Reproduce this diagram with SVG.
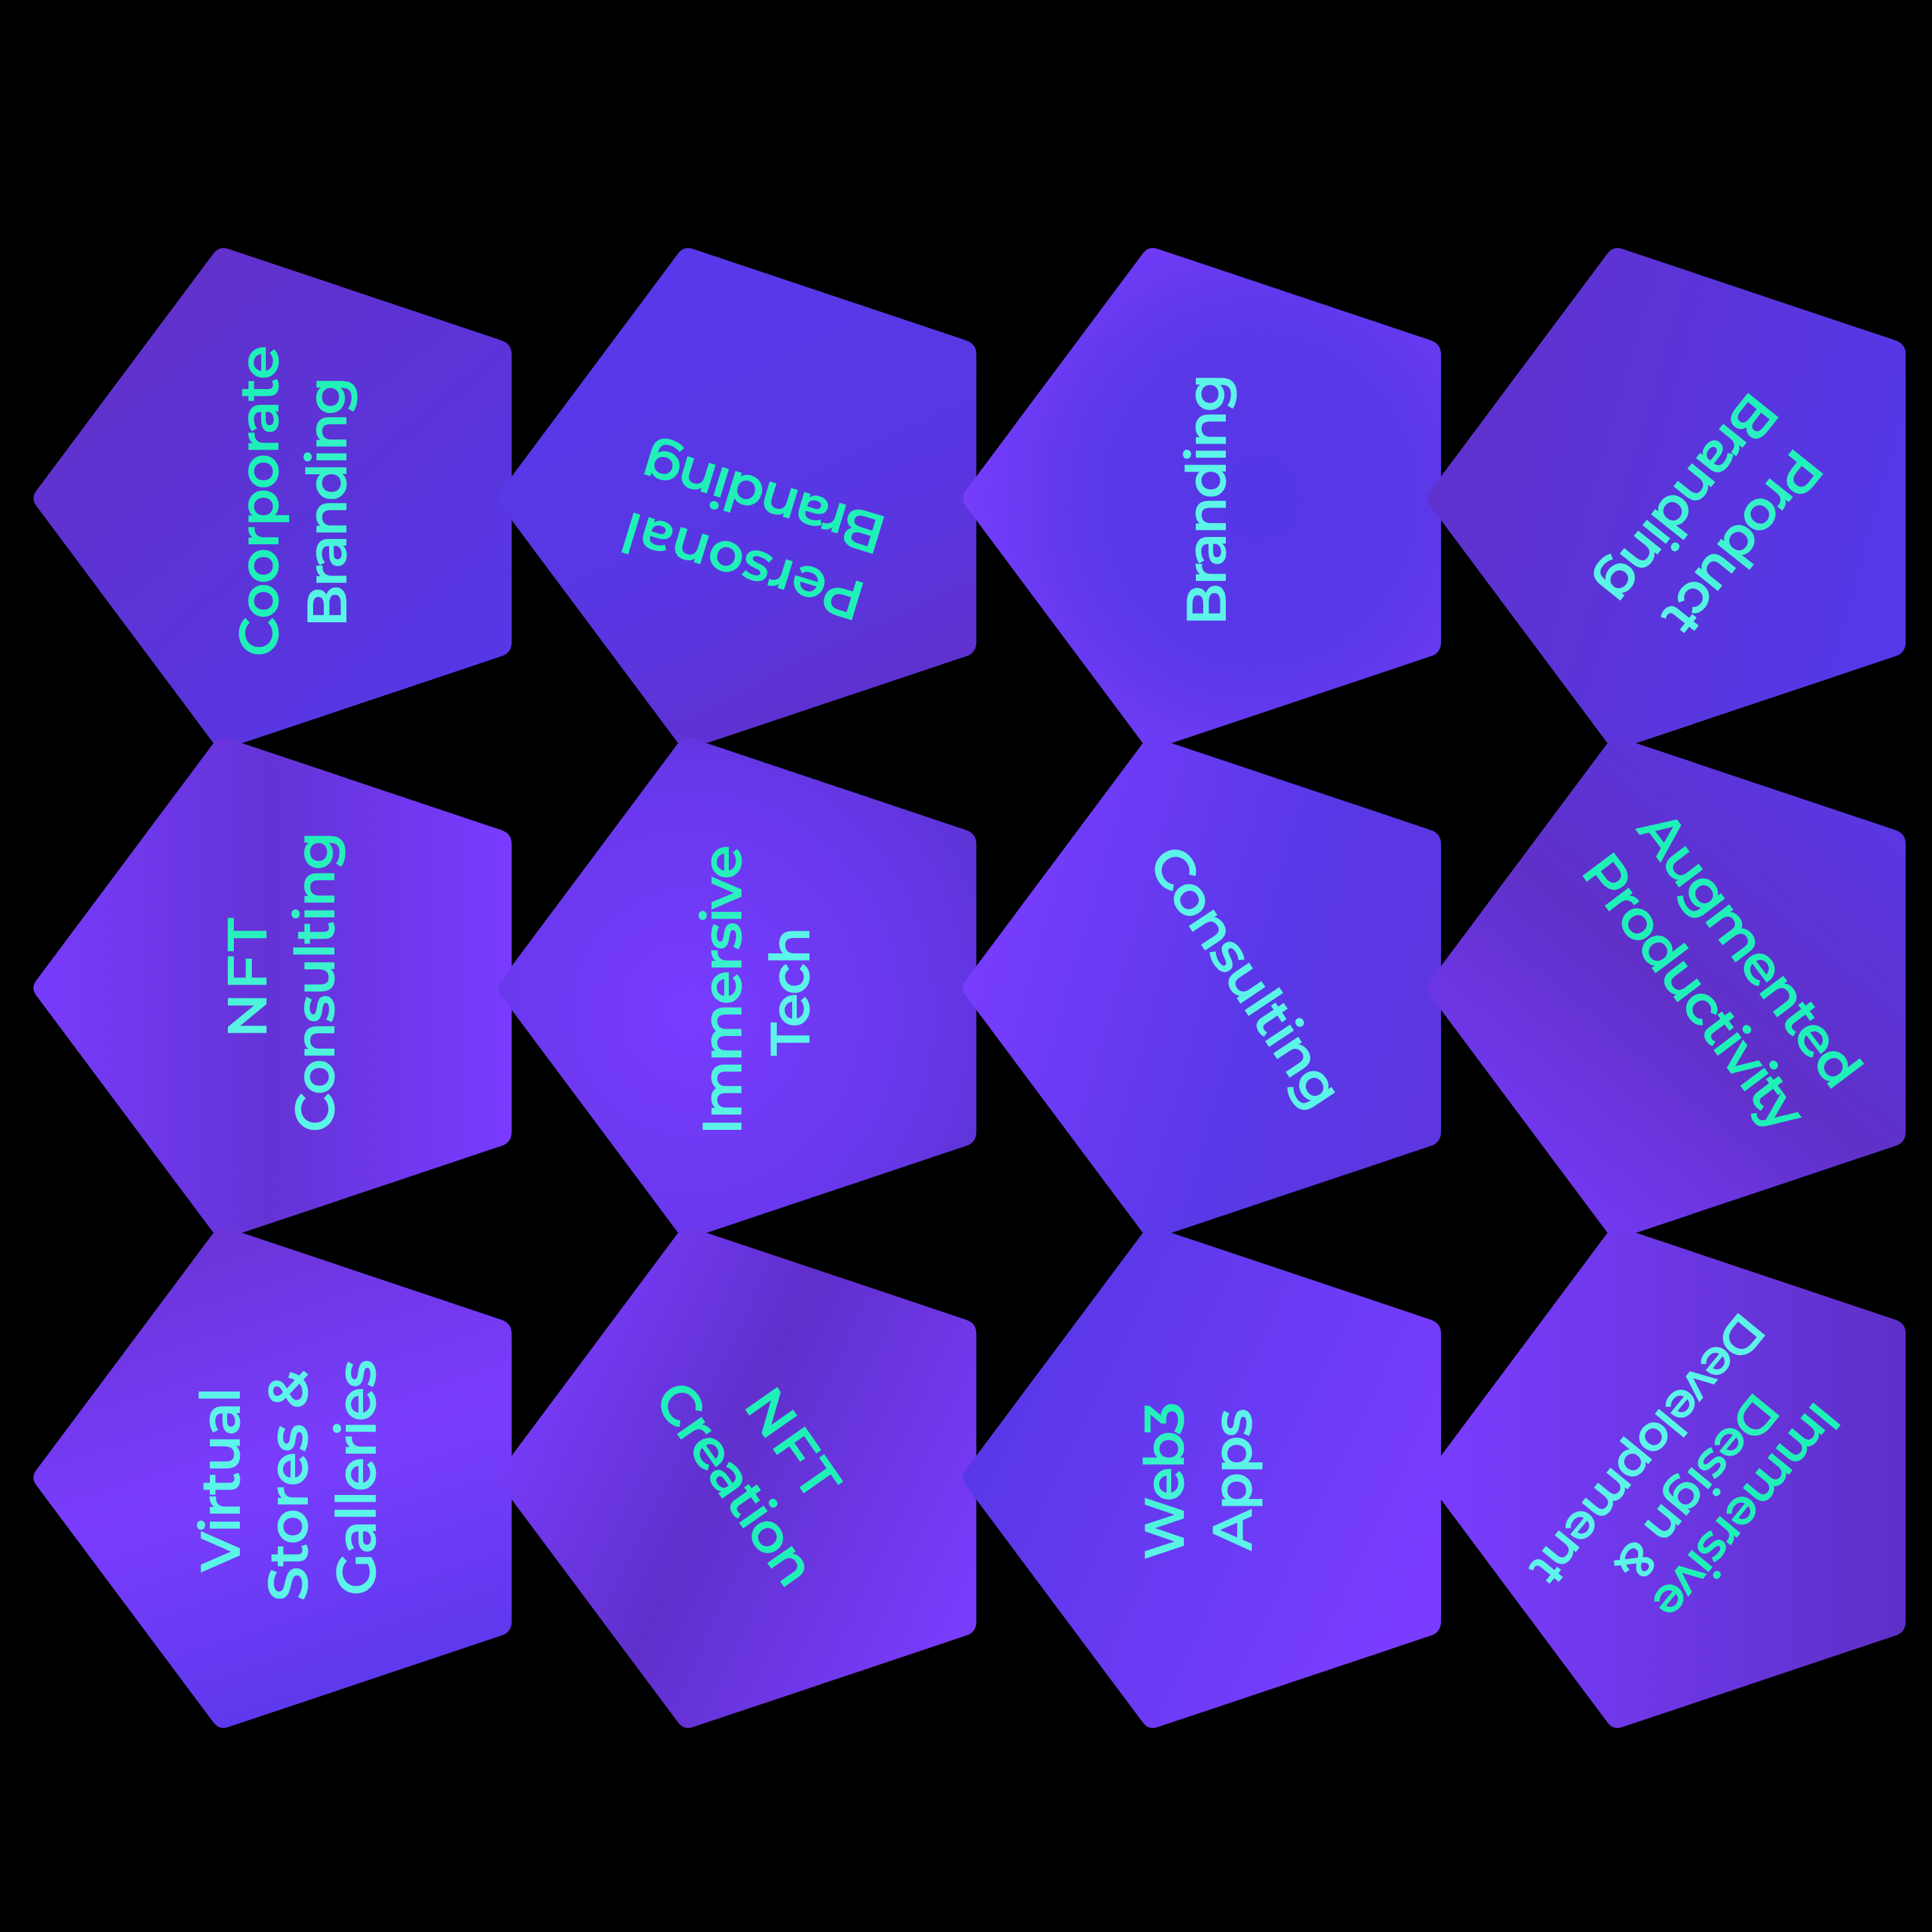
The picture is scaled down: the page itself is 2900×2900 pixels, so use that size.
<svg xmlns="http://www.w3.org/2000/svg" xmlns:xlink="http://www.w3.org/1999/xlink" width="2900" height="2900" viewBox="0 0 2900 2900">
<style>
.t{font-family:"Montserrat","Open Sans","Inter","DejaVu Sans",sans-serif;font-weight:600;font-size:84px;text-anchor:middle}
.s{font-size:76px}
.g{fill:#1ff0b8}
.c{fill:#5cf3e8}
.m{fill:url(#tgrad)}
.mr{fill:url(#tgradr)}
</style>
<defs>
<path id="pent" d="M -394.6,-11.2 L -128.4,-367.8 Q -120,-379 -106.7,-374.6 L 303.8,-237.1 Q 319,-232 319,-216 L 319,216 Q 319,232 303.8,237.1 L -106.7,374.6 Q -120,379 -128.4,367.8 L -394.6,11.2 Q -403,0 -394.6,-11.2 Z"/>
<linearGradient id="tgrad" x1="0" y1="0" x2="1" y2="0"><stop offset="0" stop-color="#1ff0b6"/><stop offset="1" stop-color="#5ef4ea"/></linearGradient>
<linearGradient id="tgradr" x1="0" y1="0" x2="1" y2="0"><stop offset="0" stop-color="#5ef4ea"/><stop offset="1" stop-color="#1ff0b6"/></linearGradient>
<linearGradient id="g1" x1="0.1" y1="0" x2="0.9" y2="1"><stop offset="0" stop-color="#6330c6"/><stop offset="1" stop-color="#5537e8"/></linearGradient>
<linearGradient id="g2" x1="0.5" y1="0.1" x2="0.9" y2="1"><stop offset="0" stop-color="#5838e8"/><stop offset="0.5" stop-color="#5936e2"/><stop offset="1" stop-color="#6230c8"/></linearGradient>
<radialGradient id="g3" cx="0.62" cy="0.5" r="0.65"><stop offset="0" stop-color="#5537e6"/><stop offset="0.55" stop-color="#5b38e8"/><stop offset="1" stop-color="#7a3dfe"/></radialGradient>
<linearGradient id="g4" x1="0" y1="0.3" x2="1" y2="0.6"><stop offset="0" stop-color="#6031cc"/><stop offset="1" stop-color="#5538e8"/></linearGradient>
<linearGradient id="g5" x1="0" y1="0.5" x2="1" y2="0.5"><stop offset="0" stop-color="#783cfc"/><stop offset="0.5" stop-color="#6433d6"/><stop offset="1" stop-color="#793cff"/></linearGradient>
<radialGradient id="g6" cx="0.4" cy="0.55" r="0.7"><stop offset="0" stop-color="#783cff"/><stop offset="0.6" stop-color="#6a38ee"/><stop offset="1" stop-color="#5c34d6"/></radialGradient>
<linearGradient id="g7" x1="0" y1="0.35" x2="1" y2="0.65"><stop offset="0" stop-color="#7a3dff"/><stop offset="0.6" stop-color="#5a38e8"/><stop offset="1" stop-color="#5d36e0"/></linearGradient>
<linearGradient id="g8" x1="0.9" y1="0" x2="0.1" y2="1"><stop offset="0" stop-color="#5838e6"/><stop offset="0.5" stop-color="#6030c8"/><stop offset="1" stop-color="#793cff"/></linearGradient>
<linearGradient id="g9" x1="0.3" y1="0" x2="0.6" y2="1"><stop offset="0" stop-color="#6834d6"/><stop offset="0.5" stop-color="#7a3dfe"/><stop offset="1" stop-color="#5a38ea"/></linearGradient>
<linearGradient id="g10" x1="0" y1="0.3" x2="1" y2="0.8"><stop offset="0" stop-color="#7a3dff"/><stop offset="0.45" stop-color="#6030cc"/><stop offset="1" stop-color="#7a3dff"/></linearGradient>
<linearGradient id="g11" x1="0.2" y1="0.2" x2="1" y2="0.6"><stop offset="0" stop-color="#5a38e8"/><stop offset="1" stop-color="#7a3dff"/></linearGradient>
<linearGradient id="g12" x1="0" y1="0.5" x2="1" y2="0.5"><stop offset="0" stop-color="#7a3dff"/><stop offset="1" stop-color="#5e30c8"/></linearGradient>
</defs>
<rect x="0" y="0" width="2900" height="2900" fill="#000000"/>
<g id="nodes">
<g id="node-corporate-branding">
<use href="#pent" x="449" y="748" fill="url(#g1)"/>
<text class="t g" transform="translate(389,752) rotate(-90)" x="0" y="29" textLength="468">Coorporate</text>
<text class="t mr" transform="translate(491,753.5) rotate(-90)" x="0" y="29" textLength="377">Branding</text>
</g>
<g id="node-personal-branding">
<use href="#pent" x="1146.5" y="748" fill="url(#g2)"/>
<text class="t g" transform="translate(1116,848) rotate(197)" x="0" y="27" textLength="375">Personal</text>
<text class="t g" transform="translate(1146,748) rotate(197)" x="0" y="27" textLength="378">Branding</text>
</g>
<g id="node-branding">
<use href="#pent" x="1844" y="748" fill="url(#g3)"/>
<text class="t c" transform="translate(1811,750) rotate(-90)" x="0" y="29" textLength="379">Branding</text>
</g>
<g id="node-product-branding">
<use href="#pent" x="2541.5" y="748" fill="url(#g4)"/>
<text class="t m" transform="translate(2614,814) rotate(128.6)" x="0" y="27" textLength="330">Product</text>
<text class="t m" transform="translate(2532,748) rotate(128.6)" x="0" y="27" textLength="378">Branding</text>
</g>
<g id="node-nft-consulting">
<use href="#pent" x="449" y="1483" fill="url(#g5)"/>
<text class="t mr" transform="translate(371,1468) rotate(-90)" x="0" y="29" textLength="181">NFT</text>
<text class="t mr" transform="translate(473,1474) rotate(-90)" x="0" y="29" textLength="452">Consulting</text>
</g>
<g id="node-immersive-tech">
<use href="#pent" x="1146.5" y="1483" fill="url(#g6)"/>
<text class="t mr" transform="translate(1084,1486) rotate(-90)" x="0" y="29" textLength="436">Immersive</text>
<text class="t c" transform="translate(1186,1488) rotate(-90)" x="0" y="29" textLength="194">Tech</text>
</g>
<g id="node-consulting">
<use href="#pent" x="1844" y="1483" fill="url(#g7)"/>
<text class="t c" transform="translate(1868,1467) rotate(56.4)" x="0" y="27" textLength="452">Consulting</text>
</g>
<g id="node-augmented-productivity">
<use href="#pent" x="2541.5" y="1483" fill="url(#g8)"/>
<text class="t g" transform="translate(2625,1426) rotate(53)" x="0" y="27" textLength="495">Augmented</text>
<text class="t g" transform="translate(2541,1490) rotate(53)" x="0" y="27" textLength="495">Productivity</text>
</g>
<g id="node-virtual-stores-galleries">
<use href="#pent" x="449" y="2218" fill="url(#g9)"/>
<text class="t c" transform="translate(331,2221) rotate(-90)" x="0" y="29" textLength="278">Virtual</text>
<text class="t c" transform="translate(433,2230) rotate(-90)" x="0" y="29" textLength="348">Stores &amp;</text>
<text class="t c" transform="translate(535,2218) rotate(-90)" x="0" y="29" textLength="355">Galleries</text>
</g>
<g id="node-nft-creation">
<use href="#pent" x="1146.5" y="2218" fill="url(#g10)"/>
<text class="t g" transform="translate(1188,2168) rotate(55)" x="0" y="27" textLength="181">NFT</text>
<text class="t g" transform="translate(1102,2228) rotate(55)" x="0" y="27" textLength="352">Creation</text>
</g>
<g id="node-web3-apps">
<use href="#pent" x="1844" y="2218" fill="url(#g11)"/>
<text class="t mr" transform="translate(1748,2223) rotate(-90)" x="0" y="29" textLength="238">Web3</text>
<text class="t c" transform="translate(1850,2221) rotate(-90)" x="0" y="29" textLength="214">Apps</text>
</g>
<g id="node-immersive-design-development">
<use href="#pent" x="2541.5" y="2218" fill="url(#g12)"/>
<text class="t s g" transform="translate(2620,2268) rotate(129.5)" x="0" y="25" textLength="395">Immersive</text>
<text class="t s m" transform="translate(2546,2233) rotate(129.5)" x="0" y="25" textLength="340">Design &amp;</text>
<text class="t s c" transform="translate(2472,2176) rotate(129.5)" x="0" y="25" textLength="505">Development</text>
</g>
</g>
</svg>
